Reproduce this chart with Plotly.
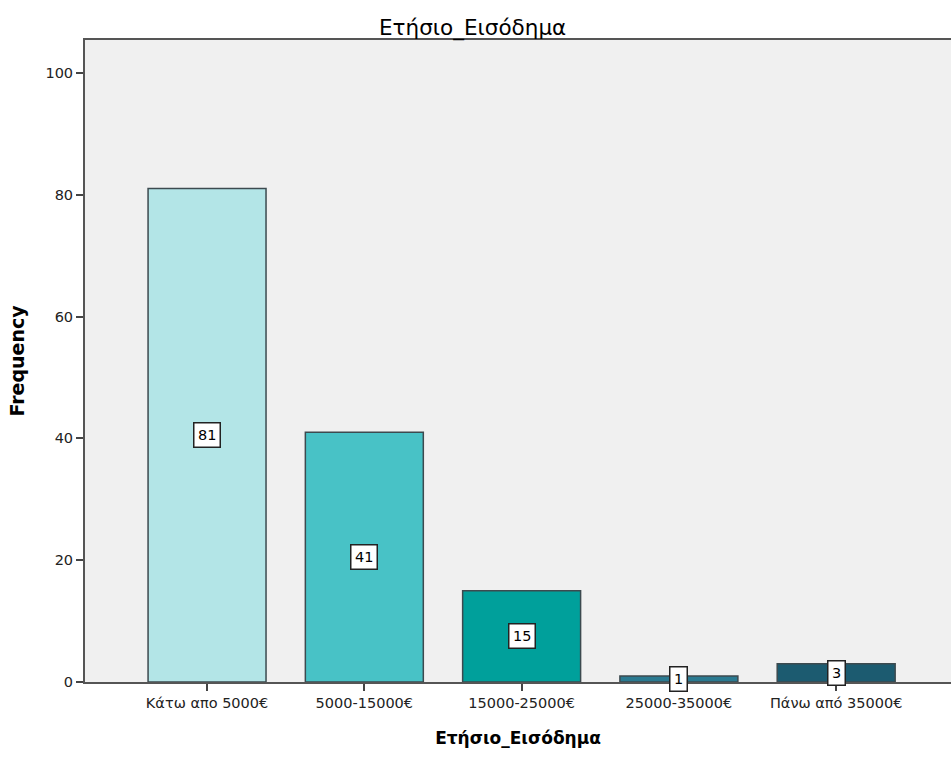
import plotly.graph_objects as go

# Annual income categories and their frequencies
categories = ["Κάτω απο 5000€", "5000-15000€", "15000-25000€", "25000-35000€", "Πάνω από 35000€"]
frequencies = [81, 41, 15, 1, 3]
bar_colors = ["#b3e5e7", "#48c2c6", "#00a09b", "#2b7a91", "#1c5b70"]
y_ticks = [0, 20, 40, 60, 80, 100]

font_family = "DejaVu Sans, Liberation Sans, Arial, sans-serif"

fig = go.Figure(
    go.Bar(
        x=categories,
        y=frequencies,
        marker=dict(color=bar_colors, line=dict(color="#3c4a4f", width=1.5)),
        width=0.75,
        hoverinfo="x+y",
    )
)

# Value labels placed in white boxes at half the bar height
for cat, val in zip(categories, frequencies):
    fig.add_annotation(
        x=cat,
        y=val / 2,
        text=str(val),
        showarrow=False,
        font=dict(family=font_family, size=14.5, color="#000000"),
        bgcolor="#ffffff",
        bordercolor="#222222",
        borderwidth=1.5,
        borderpad=3.5,
    )

fig.update_layout(
    width=951,
    height=758,
    paper_bgcolor="#ffffff",
    plot_bgcolor="#f0f0f0",
    margin=dict(l=85, r=0, t=40, b=76),
    showlegend=False,
    bargap=0.25,
    title=dict(
        text="Ετήσιο_Εισόδημα",
        x=0.497,
        xref="container",
        xanchor="center",
        y=1 - 27 / 758,
        yref="container",
        yanchor="middle",
        font=dict(family=font_family, size=21.5, color="#000000"),
    ),
    font=dict(family=font_family, size=14.5, color="#222222"),
)

fig.update_xaxes(
    range=[-0.776, 4.73],
    showgrid=False,
    showline=True,
    linecolor="#555555",
    linewidth=2,
    mirror=True,
    ticks="outside",
    ticklen=7,
    tickwidth=1.5,
    tickcolor="#444444",
    tickfont=dict(family=font_family, size=14.5, color="#222222"),
    title=dict(
        text="<b>Ετήσιο_Εισόδημα</b>",
        font=dict(family=font_family, size=17, color="#000000"),
        standoff=22,
    ),
)

fig.update_yaxes(
    range=[0, 105.4],
    tickvals=y_ticks,
    showgrid=False,
    zeroline=False,
    showline=True,
    linecolor="#555555",
    linewidth=2,
    ticks="outside",
    ticklen=7,
    tickwidth=1.5,
    tickcolor="#444444",
    tickfont=dict(family=font_family, size=14.5, color="#222222"),
    title=dict(
        text="<b>Frequency</b>",
        font=dict(family=font_family, size=19, color="#000000"),
        standoff=16,
    ),
)

fig.write_html("out.html")
